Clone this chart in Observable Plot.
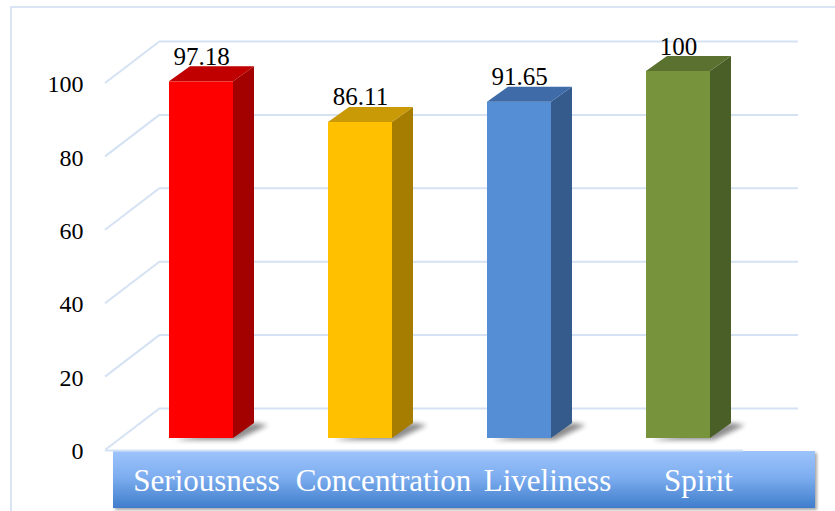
<!DOCTYPE html>
<html>
<head>
<meta charset="utf-8">
<script src="https://cdn.jsdelivr.net/npm/d3@7"></script>
<script src="https://cdn.jsdelivr.net/npm/@observablehq/plot@0.6"></script>
<style>
  html, body { margin: 0; padding: 0; background: #ffffff; }
  #chart { width: 835px; height: 511px; overflow: hidden; }
</style>
</head>
<body>
<div id="chart"></div>
<script>
// ---- data ----
const categories = ["Seriousness", "Concentration", "Liveliness", "Spirit"];
const values = [97.18, 86.11, 91.65, 100];
const yTicks = [0, 20, 40, 60, 80, 100];

// ---- styles ----
const frontColors = ["#ff0000", "#ffc000", "#558ed5", "#77933c"];
const topColors   = ["#c00000", "#c99a06", "#3f6ca8", "#5b7130"];
const sideColors  = ["#a30000", "#a67d00", "#345b8c", "#4a5e27"];
const labelNudge  = [5, 23, 28, 20];   // horizontal nudge of each category label (px)
const gridColor = "#d5e2f3";
const font = "'Liberation Serif', 'DejaVu Serif', serif";

const data = categories.map((cat, i) => ({cat, value: values[i]}));

// oblique depth offsets (pixels)
const BAR_DX = 21, BAR_DY = -15;      // bar depth
const BACK_DX = 39, BACK_DY = -30;    // bar plane -> back wall
const FRONT_DX = -16, FRONT_DY = 12;  // bar plane -> floor front edge

// border + category band (decoration)
const backdrop = (index, scales, vals, dim) => {
  const y = scales.y;
  const g = d3.create("svg:g").attr("aria-label", "backdrop");
  const defs = g.append("defs");
  const grad = defs.append("linearGradient").attr("id", "bandGrad")
    .attr("x1", 0).attr("y1", 0).attr("x2", 0).attr("y2", 1);
  grad.append("stop").attr("offset", "0%").attr("stop-color", "#9dc3fa");
  grad.append("stop").attr("offset", "45%").attr("stop-color", "#7eaef0");
  grad.append("stop").attr("offset", "100%").attr("stop-color", "#3f7dcb");
  const f = defs.append("filter").attr("id", "bandShadow")
    .attr("x", "-5%").attr("y", "-20%").attr("width", "110%").attr("height", "150%");
  f.append("feDropShadow").attr("dx", 2).attr("dy", 2).attr("stdDeviation", 1.5)
    .attr("flood-color", "#000").attr("flood-opacity", 0.35);
  // outer border
  g.append("path").attr("d", `M11,${dim.height + 5}V7H${dim.width + 5}`)
    .attr("fill", "none").attr("stroke", "#d9e5f4").attr("stroke-width", 2);
  // category band
  const x0 = dim.marginLeft - 8, x1 = dim.width - dim.marginRight + 56;
  const top = y(0) + 13, bottom = dim.height - 3;
  g.append("rect").attr("x", x0).attr("y", top).attr("width", x1 - x0).attr("height", bottom - top)
    .attr("fill", "url(#bandGrad)").attr("filter", "url(#bandShadow)");
  return g.node();
};

// side diagonals of the gridlines (front edge -> back wall)
const diagonals = (index, scales, vals, dim) => {
  const y = scales.y;
  const g = d3.create("svg:g").attr("aria-label", "grid-diagonals");
  const xl = dim.marginLeft;
  for (const t of yTicks) {
    g.append("line")
      .attr("x1", xl + FRONT_DX).attr("y1", y(t) + FRONT_DY)
      .attr("x2", xl + BACK_DX).attr("y2", y(t) + BACK_DY)
      .attr("stroke", gridColor).attr("stroke-width", 2);
  }
  return g.node();
};

// floor shadows of bars
const shadows = (index, scales) => {
  const x = scales.x, y = scales.y, bw = x.bandwidth();
  const g = d3.create("svg:g").attr("aria-label", "bar-shadows");
  const defs = g.append("defs");
  defs.append("filter").attr("id", "barBlur").attr("x", "-50%").attr("y", "-50%")
    .attr("width", "200%").attr("height", "200%")
    .append("feGaussianBlur").attr("stdDeviation", 2.5);
  data.forEach(d => {
    const xl = x(d.cat), xr = xl + bw, yb = y(0);
    g.append("polygon")
      .attr("points", [[xl + 6, yb + 2], [xr + 4, yb + 2], [xr + BAR_DX + 14, yb + BAR_DY + 2], [xr + BAR_DX, yb + BAR_DY]].join(" "))
      .attr("fill", "#000").attr("opacity", 0.45).attr("filter", "url(#barBlur)");
  });
  return g.node();
};

// side and top faces of the 3D bars
const faces = (index, scales) => {
  const x = scales.x, y = scales.y, bw = x.bandwidth();
  const g = d3.create("svg:g").attr("aria-label", "bar-faces");
  data.forEach((d, i) => {
    const xl = x(d.cat), xr = xl + bw, yt = y(d.value), yb = y(0);
    g.append("polygon")
      .attr("points", [[xr, yb], [xr + BAR_DX, yb + BAR_DY], [xr + BAR_DX, yt + BAR_DY], [xr, yt]].join(" "))
      .attr("fill", sideColors[i]);
    g.append("polygon")
      .attr("points", [[xl, yt], [xl + BAR_DX, yt + BAR_DY], [xr + BAR_DX, yt + BAR_DY], [xr, yt]].join(" "))
      .attr("fill", topColors[i]);
  });
  return g.node();
};

const chart = Plot.plot({
  width: 835,
  height: 511,
  marginLeft: 121,
  marginRight: 76,
  marginTop: 71,
  marginBottom: 73,
  style: {background: "transparent", fontFamily: font},
  x: {domain: categories, paddingInner: 0.595, paddingOuter: 0.3, axis: null},
  y: {domain: [0, 100], axis: null},
  color: {domain: categories, range: frontColors},
  marks: [
    backdrop,
    Plot.ruleY(yTicks, {dx: BACK_DX, dy: BACK_DY, stroke: gridColor, strokeWidth: 2}),
    diagonals,
    Plot.ruleY([0], {dx: FRONT_DX, dy: FRONT_DY, stroke: gridColor, strokeWidth: 2}),
    shadows,
    Plot.barY(data, {x: "cat", y: "value", fill: "cat"}),
    faces,
    Plot.text(data, {x: "cat", y: "value", text: d => String(d.value), dy: -25,
      fontSize: 25, fill: "#000", fontFamily: font}),
    Plot.text(yTicks, {y: d => d, text: d => String(d), frameAnchor: "left", textAnchor: "end",
      lineAnchor: "middle", dx: -38, dy: 13, fontSize: 24, fill: "#000", fontFamily: font}),
    ...categories.map((c, i) => Plot.text([c], {x: d => d, text: d => d, frameAnchor: "bottom",
      lineAnchor: "middle", dx: labelNudge[i], dy: 43, fontSize: 31, fill: "#ffffff", fontFamily: font}))
  ]
});
document.getElementById("chart").appendChild(chart);
</script>
</body>
</html>
